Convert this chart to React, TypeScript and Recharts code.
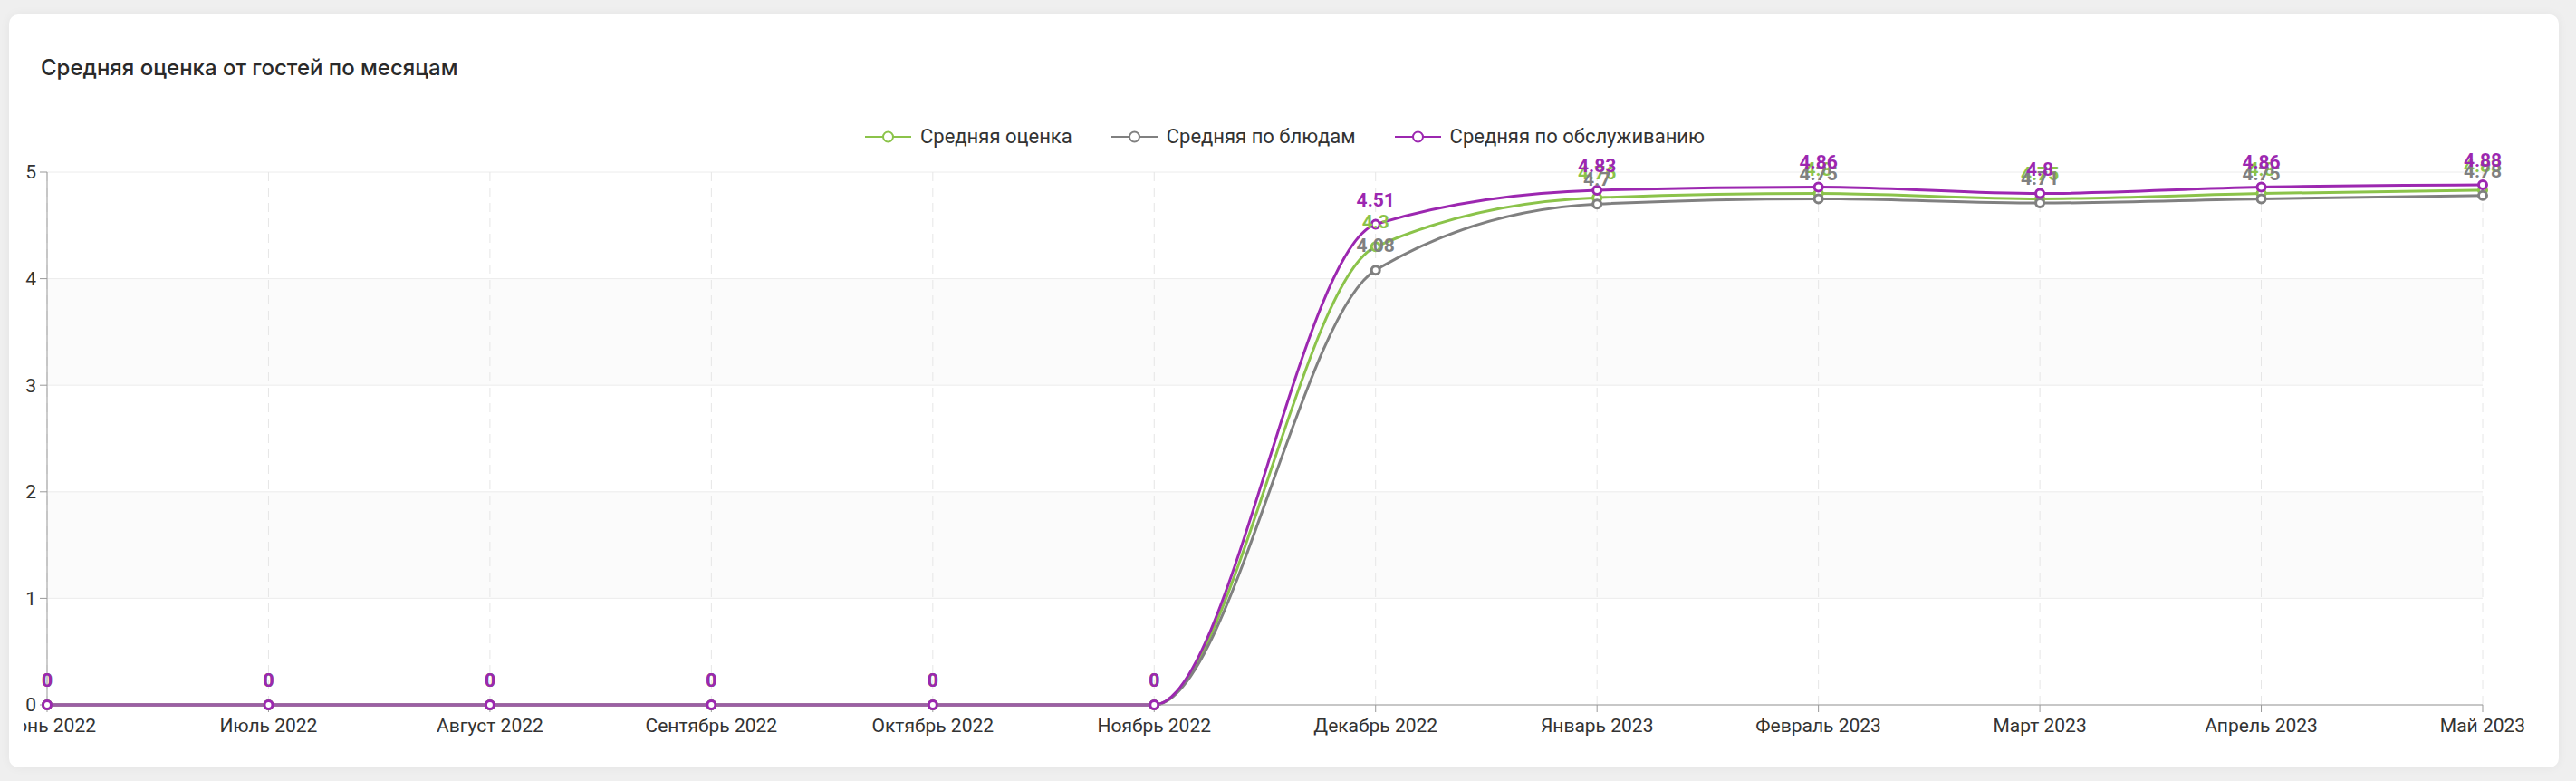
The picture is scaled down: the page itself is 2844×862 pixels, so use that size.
import { LineChart, Line, XAxis, YAxis, CartesianGrid, Legend, LabelList } from "recharts";

const months = [
  "Июнь 2022",
  "Июль 2022",
  "Август 2022",
  "Сентябрь 2022",
  "Октябрь 2022",
  "Ноябрь 2022",
  "Декабрь 2022",
  "Январь 2023",
  "Февраль 2023",
  "Март 2023",
  "Апрель 2023",
  "Май 2023",
];
const avgScore = [0, 0, 0, 0, 0, 0, 4.3, 4.76, 4.8, 4.75, 4.8, 4.83];
const dishScore = [0, 0, 0, 0, 0, 0, 4.08, 4.7, 4.75, 4.71, 4.75, 4.78];
const serviceScore = [0, 0, 0, 0, 0, 0, 4.51, 4.83, 4.86, 4.8, 4.86, 4.88];
const yTicks = [0, 1, 2, 3, 4, 5];

const series = [
  { key: "avg", name: "Средняя оценка", color: "#8bc34a" },
  { key: "dish", name: "Средняя по блюдам", color: "#808080" },
  { key: "service", name: "Средняя по обслуживанию", color: "#9c27b0" },
];

const data = months.map((month, i) => ({
  month,
  avg: avgScore[i],
  dish: dishScore[i],
  service: serviceScore[i],
}));

function LegendContent() {
  return (
    <div style={{ display: "flex", alignItems: "center", fontFamily: "Roboto", whiteSpace: "nowrap" }}>
      {series.map((s) => (
        <div key={s.key} style={{ display: "flex", alignItems: "center", marginRight: 43 }}>
          <svg width={51} height={16}>
            <line x1={0} y1={8} x2={51} y2={8} stroke={s.color} strokeWidth={2} />
            <circle cx={25.5} cy={8} r={5.5} fill="#fff" stroke={s.color} strokeWidth={2} />
          </svg>
          <span style={{ marginLeft: 10, fontSize: 22, color: "#333", lineHeight: "26px" }}>{s.name}</span>
        </div>
      ))}
    </div>
  );
}

// the chart svg starts a little inside the card, so the first tick label is cut
const CLIP_LEFT = 27;

export default function App() {
  return (
    <div
      style={{
        position: "absolute",
        left: 0,
        top: 0,
        width: 2844,
        height: 862,
        background: "#efefef",
        overflow: "hidden",
      }}
    >
      <div
        style={{
          position: "absolute",
          left: 10,
          top: 16,
          width: 2815,
          height: 831,
          background: "#fff",
          borderRadius: 10,
          boxShadow: "0 0 12px rgba(0,0,0,0.05)",
        }}
      />
      <div
        style={{
          position: "absolute",
          left: 45,
          top: 63,
          fontFamily: "Inter",
          fontWeight: 500,
          fontSize: 24,
          lineHeight: "24px",
          color: "#2a2a2a",
        }}
      >
        Средняя оценка от гостей по месяцам
      </div>
      <div
        style={{
          position: "absolute",
          left: CLIP_LEFT,
          top: 0,
          width: 2844 - CLIP_LEFT,
          height: 862,
          overflow: "hidden",
        }}
      >
        <div style={{ position: "absolute", left: -CLIP_LEFT, top: 0 }}>
          <LineChart
            width={2844}
            height={862}
            data={data}
            margin={{ top: 190, right: 103, bottom: 54, left: 12 }}
            style={{ fontFamily: "Roboto" }}
          >
            <CartesianGrid
              vertical={false}
              stroke="#ececec"
              horizontalFill={["#ffffff", "#fbfbfb"]}
              fillOpacity={1}
            />
            <CartesianGrid horizontal={false} stroke="#e6e6e6" strokeDasharray="10 7" />
            <XAxis
              dataKey="month"
              interval={0}
              stroke="#999"
              tickSize={8}
              tickMargin={7}
              height={30}
              tick={{ fill: "#333", fontSize: 21 }}
            />
            <YAxis
              domain={[0, 5]}
              ticks={yTicks}
              interval={0}
              stroke="#999"
              width={40}
              tickSize={8}
              tickMargin={4}
              tick={{ fill: "#333", fontSize: 21 }}
            />
            <Legend
              verticalAlign="middle"
              align="center"
              content={<LegendContent />}
              wrapperStyle={{ top: 138, left: 955, width: "auto" }}
            />
            {series.map((s) => (
              <Line
                key={s.key}
                type="monotone"
                dataKey={s.key}
                name={s.name}
                stroke={s.color}
                strokeWidth={3}
                dot={{ r: 4.5, strokeWidth: 3, fill: "#fff", stroke: s.color }}
                activeDot={false}
                isAnimationActive={false}
              >
                <LabelList
                  dataKey={s.key}
                  position="top"
                  offset={20}
                  fill={s.color}
                  stroke="none"
                  fontSize={21}
                  fontWeight={700}
                />
              </Line>
            ))}
          </LineChart>
        </div>
      </div>
    </div>
  );
}
